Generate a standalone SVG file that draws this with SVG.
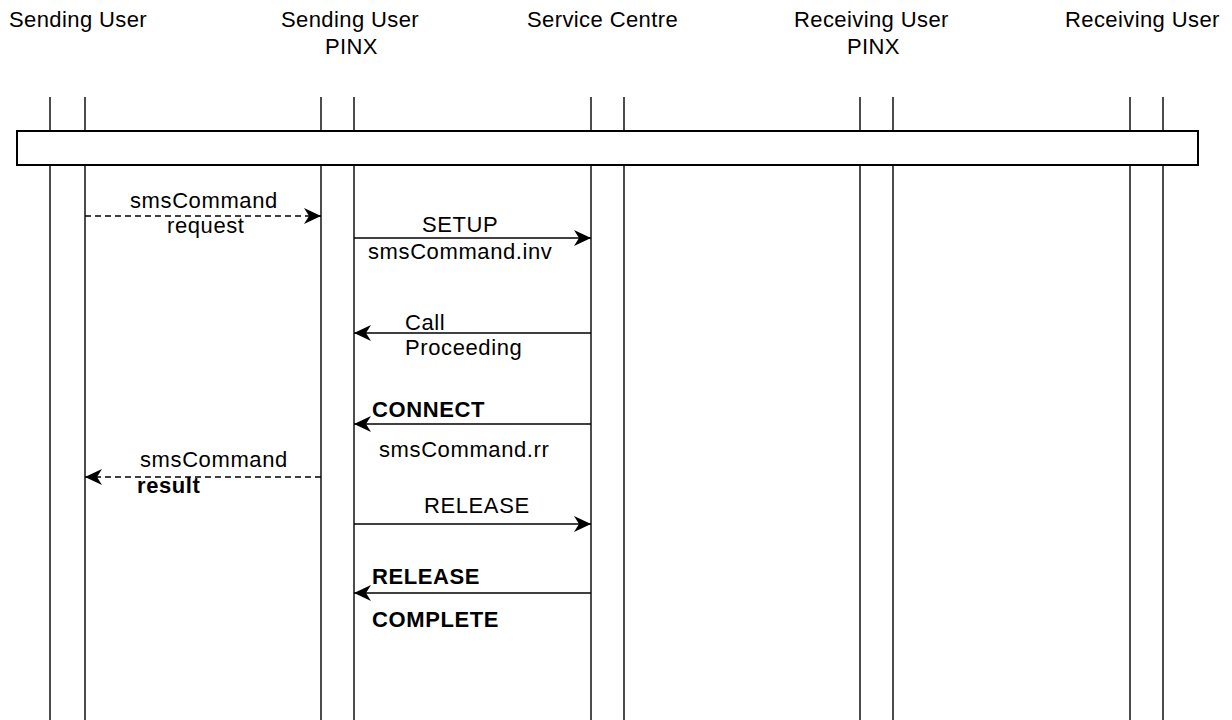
<svg xmlns="http://www.w3.org/2000/svg" width="1232" height="720" viewBox="0 0 1232 720">
<defs>
<style>
text{font-family:"Liberation Sans",Arial,sans-serif;font-size:22px;fill:#000}
.h{letter-spacing:0.4px}
.b{letter-spacing:0.6px}
.bold{font-weight:bold;letter-spacing:0.6px}
.life{stroke:#000;stroke-width:1.4;fill:none}
.msg{stroke:#000;stroke-width:1.4;fill:none;marker-end:url(#ah)}
.dash{stroke-dasharray:6 4}
</style>
<marker id="ah" viewBox="0 0 17 16" refX="17" refY="8" markerWidth="17" markerHeight="16" markerUnits="userSpaceOnUse" orient="auto">
<path d="M0,0 L17,8 L0,16 L5,8 Z" fill="#000"/>
</marker>
</defs>
<rect width="1232" height="720" fill="#fff"/>
<g id="sending-user">
<text class="h" x="9" y="27">Sending User</text>
<line class="life" x1="50" y1="97" x2="50" y2="720"/>
<line class="life" x1="85" y1="97" x2="85" y2="720"/>
</g>
<g id="sending-pinx">
<text class="h" x="281" y="27">Sending User</text>
<text class="h" x="325" y="54">PINX</text>
<line class="life" x1="321" y1="97" x2="321" y2="720"/>
<line class="life" x1="354" y1="97" x2="354" y2="720"/>
</g>
<g id="service-centre">
<text class="h" x="527" y="27">Service Centre</text>
<line class="life" x1="591" y1="97" x2="591" y2="720"/>
<line class="life" x1="624" y1="97" x2="624" y2="720"/>
</g>
<g id="receiving-pinx">
<text class="h" x="794" y="27">Receiving User</text>
<text class="h" x="847" y="54">PINX</text>
<line class="life" x1="860" y1="97" x2="860" y2="720"/>
<line class="life" x1="893" y1="97" x2="893" y2="720"/>
</g>
<g id="receiving-user">
<text class="h" x="1065" y="27">Receiving User</text>
<line class="life" x1="1130" y1="97" x2="1130" y2="720"/>
<line class="life" x1="1163" y1="97" x2="1163" y2="720"/>
</g>
<g id="bar">
<rect x="17" y="131" width="1181" height="34" fill="#fff" stroke="#000" stroke-width="2"/>
</g>
<g id="connectors">
<line class="msg dash" x1="85" y1="216" x2="321" y2="216"/>
<line class="msg" x1="354" y1="238" x2="591" y2="238"/>
<line class="msg" x1="591" y1="333" x2="354" y2="333"/>
<line class="msg" x1="591" y1="424" x2="354" y2="424"/>
<line class="msg dash" x1="321" y1="477" x2="85" y2="477"/>
<line class="msg" x1="354" y1="524" x2="591" y2="524"/>
<line class="msg" x1="591" y1="593" x2="354" y2="593"/>
</g>
<g id="labels">
<text class="b" x="130" y="208">smsCommand</text>
<text class="b" x="167" y="233">request</text>
<text class="b" x="422" y="232">SETUP</text>
<text class="b" x="368" y="259">smsCommand.inv</text>
<text class="b" x="405" y="330">Call</text>
<text class="b" x="405" y="355">Proceeding</text>
<text class="bold" x="372" y="417">CONNECT</text>
<text class="b" x="379" y="457">smsCommand.rr</text>
<text class="b" x="140" y="467">smsCommand</text>
<text class="bold" x="137" y="493">result</text>
<text class="b" x="424" y="513">RELEASE</text>
<text class="bold" x="372" y="584">RELEASE</text>
<text class="bold" x="372" y="627">COMPLETE</text>
</g>
</svg>
